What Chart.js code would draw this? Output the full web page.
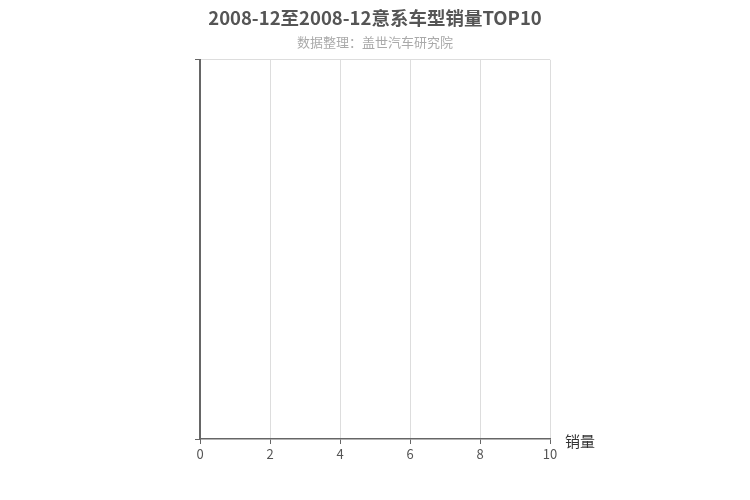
<!DOCTYPE html>
<html>
<head>
<meta charset="utf-8">
<script src="https://cdn.jsdelivr.net/npm/chart.js@4/dist/chart.umd.min.js"></script>
<style>
html,body{margin:0;padding:0;background:#fff;}
#wrap{width:750px;height:500px;position:relative;}
</style>
</head>
<body>
<div id="wrap"><canvas id="c" width="750" height="500"></canvas></div>
<script>
// Data (the reference shows no bars: the period has no sales data)
const categories = [];
const salesValues = [];
const titleText = '2008-12至2008-12意系车型销量TOP10';
const subtitleText = '数据整理：盖世汽车研究院';
const xAxisName = '销量';
const xMin = 0, xMax = 10, xStep = 2;

const FONT = '"Noto Sans CJK SC", "Noto Sans", sans-serif';

const axisNamePlugin = {
  id: 'axisName',
  afterDraw(chart) {
    const ctx = chart.ctx;
    const a = chart.chartArea;
    ctx.save();
    ctx.font = '15px ' + FONT;
    ctx.fillStyle = '#333';
    ctx.textAlign = 'left';
    ctx.textBaseline = 'middle';
    ctx.fillText(xAxisName, a.right + 15, a.bottom + 2);
    ctx.restore();
  }
};

new Chart(document.getElementById('c'), {
  type: 'bar',
  data: {
    labels: categories,
    datasets: [{ label: xAxisName, data: salesValues, backgroundColor: '#5470c6' }]
  },
  plugins: [axisNamePlugin],
  options: {
    indexAxis: 'y',
    responsive: false,
    animation: false,
    devicePixelRatio: 1,
    layout: { padding: 0 },
    plugins: {
      legend: { display: false },
      tooltip: { enabled: false },
      title: {
        display: true,
        text: titleText,
        color: '#555',
        font: { family: FONT, size: 18.5, weight: 'bold' },
        padding: { top: 7, bottom: 3 }
      },
      subtitle: {
        display: true,
        text: subtitleText,
        color: '#aaa',
        font: { family: FONT, size: 13 },
        padding: { top: 2, bottom: 10 }
      }
    },
    scales: {
      x: {
        type: 'linear',
        position: 'bottom',
        min: xMin, max: xMax,
        ticks: { stepSize: xStep, color: '#555', font: { family: FONT, size: 13 }, padding: 2 },
        grid: {
          color: (c) => (c.tick && c.tick.value === xMin) ? 'rgba(0,0,0,0)' : '#ddd',
          tickColor: '#666',
          tickLength: 5,
          lineWidth: 1
        },
        border: { display: true, color: '#666', width: 1.5 },
        afterFit(scale) { scale.height = 61; }
      },
      y: {
        type: 'linear',
        position: 'left',
        offset: false,
        min: 0, max: 1,
        ticks: { display: false },
        afterBuildTicks(scale) { scale.ticks = [{ value: 0 }, { value: 1 }]; },
        grid: {
          offset: false,
          color: (c) => (c.tick && c.tick.value === 1) ? '#ddd' : 'rgba(0,0,0,0)',
          tickColor: '#666',
          tickLength: 5,
          lineWidth: 1
        },
        border: { display: true, color: '#666', width: 2 },
        afterFit(scale) { scale.width = 200; }
      },
      yRight: {
        type: 'linear',
        position: 'right',
        offset: false,
        min: 0, max: 1,
        ticks: { display: false },
        grid: { display: false, drawTicks: false, offset: false },
        border: { display: false },
        afterFit(scale) { scale.width = 200; }
      }
    }
  }
});
</script>
</body>
</html>
